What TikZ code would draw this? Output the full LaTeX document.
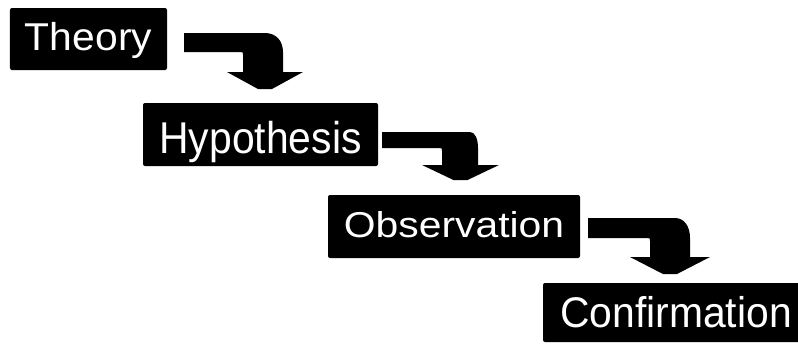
\documentclass[tikz,border=0pt]{standalone}
\usepackage{fontspec}
\setmainfont{Liberation Sans}
\tikzset{
  stagebox/.style={fill=black, rounded corners=2bp, text=white, inner sep=0pt,
    font=\fontsize{41}{41}\selectfont, text depth=0pt},
  bentarrow/.style={fill=black}
}
% #1 bar left, #2 bar top, #3 bar bottom, #4 curve start x, #5 stem left, #6 stem right,
% #7 head top, #8 head left, #9 head right, tip y given via \tipy
\newcommand\bentarrowshape[9]{%
  \fill[bentarrow] (#1,#2) -- (#4,#2)
     .. controls ({#4+0.6*(#6-#4)},#2) and (#6,{#2+0.4*(#3-#2)}) .. (#6,#3)
     -- (#6,#7) -- (#9,#7) -- ({(#8+#9)/2+7},\tipy) -- ({(#8+#9)/2-7},\tipy)
     -- (#8,#7) -- (#5,#7) -- (#5,{#3+3}) .. controls (#5,#3) .. ({#5-3},#3)
     -- (#1,#3) -- cycle;}
\begin{document}
\begin{tikzpicture}[x=1bp,y=-1bp]
\useasboundingbox (0,0) rectangle (798,344);
\node[stagebox, minimum width=157bp, minimum height=62bp, text height=22bp]
  (theory) at (88.5,39) {\scalebox{1}[0.95]{Theory}};
\node[stagebox, minimum width=235bp, minimum height=63bp, text height=37bp]
  (hyp) at (260.5,134.5) {\scalebox{1}[1.09]{Hypothesis}};
\node[stagebox, minimum width=252bp, minimum height=63bp, text height=21bp]
  (obs) at (454,226.5) {\scalebox{1}[0.88]{Observation}};
\node[stagebox, minimum width=266bp, minimum height=59bp, text height=29bp]
  (conf) at (676,312.5) {\scalebox{1}[1.05]{Confirmation}};
\def\tipy{89}
\bentarrowshape{184}{33}{52}{265}{243}{283}{72}{227}{303}
\def\tipy{180}
\bentarrowshape{382}{132}{148}{470}{442}{478}{165}{422}{499}
\def\tipy{274}
\bentarrowshape{588}{218}{238}{675}{650}{690}{257}{630}{710}
\end{tikzpicture}
\end{document}
